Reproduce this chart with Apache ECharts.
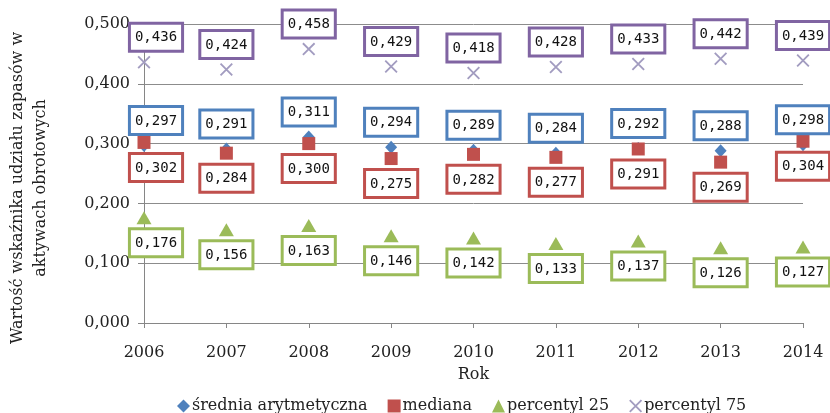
<!DOCTYPE html>
<html><head><meta charset="utf-8">
<script src="https://cdn.jsdelivr.net/npm/echarts@6/dist/echarts.min.js"></script>
<style>html,body{margin:0;padding:0;background:#fff}#c{width:830px;height:413px}</style>
</head><body><div id="c"></div>
<script>
const years = ['2006','2007','2008','2009','2010','2011','2012','2013','2014'];
const srednia = [0.297, 0.291, 0.311, 0.294, 0.289, 0.284, 0.292, 0.288, 0.298];
const mediana = [0.302, 0.284, 0.300, 0.275, 0.282, 0.277, 0.291, 0.269, 0.304];
const p25 = [0.176, 0.156, 0.163, 0.146, 0.142, 0.133, 0.137, 0.126, 0.127];
const p75 = [0.436, 0.424, 0.458, 0.429, 0.418, 0.428, 0.433, 0.442, 0.439];
const seriesNames = ['średnia arytmetyczna', 'mediana', 'percentyl 25', 'percentyl 75'];

const fmt = v => v.toFixed(3).replace('.', ',');
const crossPath = 'path://M0,1L1,0L10,9L9,10Z M9,0L10,1L1,10L0,9Z';

function mk(name, vals, color, symbol, size, pos, mcolor) {
  return {
    name: name, type: 'scatter', symbol: symbol, symbolSize: size,
    itemStyle: { color: mcolor || color, opacity: 1 },
    data: vals.map((v, i) => ({ value: v, label: { offset: i === 0 ? [12, 0] : [0, 0] } })),
    label: {
      show: true, position: pos, distance: 6,
      formatter: p => fmt(p.value),
      fontFamily: 'DejaVu Sans Mono', fontSize: 14, color: '#111',
      backgroundColor: '#fff', borderColor: color, borderWidth: 3,
      padding: [6, 4, 5, 4]
    },
    emphasis: { disabled: true }
  };
}

const chart = echarts.init(document.getElementById('c'));
chart.setOption({
  animation: false,
  grid: { left: 144, right: 27, top: 24, bottom: 90 },
  xAxis: {
    type: 'category', data: years, boundaryGap: false,
    name: 'Rok', nameLocation: 'middle', nameGap: 44,
    nameTextStyle: { fontFamily: 'DejaVu Serif', fontSize: 16, color: '#222' },
    axisLine: { lineStyle: { color: '#868686' } },
    axisTick: { show: true, length: 5, lineStyle: { color: '#868686' } },
    axisLabel: { fontFamily: 'DejaVu Serif', fontSize: 16, color: '#222', margin: 22 },
    splitLine: { show: false }
  },
  yAxis: {
    type: 'value', min: 0, max: 0.5, interval: 0.1,
    axisLine: { show: true, lineStyle: { color: '#868686' } },
    axisTick: { show: true, length: 6, lineStyle: { color: '#868686' } },
    axisLabel: { fontFamily: 'DejaVu Serif', fontSize: 16, color: '#222', margin: 14, formatter: v => fmt(v) },
    splitLine: { lineStyle: { color: '#8c8c8c' } }
  },
  legend: {
    left: 172, top: 393, itemWidth: 13, itemHeight: 13, itemGap: 20,
    textStyle: { fontFamily: 'DejaVu Serif', fontSize: 16, color: '#222', padding: [0,0,0,-3] },
    data: seriesNames
  },
  graphic: [{
    type: 'text', x: 29, y: 188, rotation: Math.PI / 2,
    style: {
      text: 'Wartość wskaźnika udziału zapasów w\naktywach obrotowych',
      fontFamily: 'DejaVu Serif', fontSize: 16, fill: '#222',
      align: 'center', verticalAlign: 'middle', lineHeight: 23
    }
  }],
  series: [
    mk(seriesNames[0], srednia, '#4f81bd', 'diamond', [12, 13], 'top'),
    mk(seriesNames[1], mediana, '#c0504d', 'rect', 13, 'bottom'),
    mk(seriesNames[2], p25, '#9bbb59', 'triangle', [15, 13], 'bottom'),
    mk(seriesNames[3], p75, '#8064a2', crossPath, 13, 'top', '#a29cc0')
  ]
});
</script></body></html>
